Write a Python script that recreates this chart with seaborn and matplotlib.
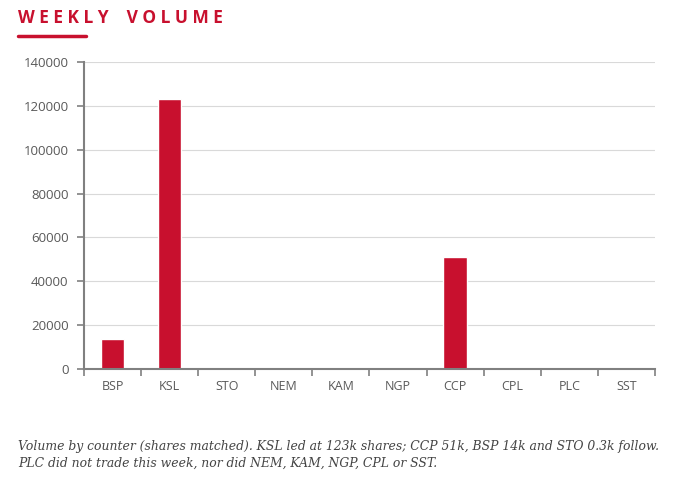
import matplotlib
matplotlib.use("Agg")
import matplotlib.pyplot as plt
import seaborn as sns
import pandas as pd
import numpy as np

# Data
counters = ["BSP", "KSL", "STO", "NEM", "KAM", "NGP", "CCP", "CPL", "PLC", "SST"]
volume = [13500, 123000, 300, 0, 0, 0, 51000, 0, 0, 0]
y_ticks = [0, 20000, 40000, 60000, 80000, 100000, 120000, 140000]

red = "#c8102e"
grey = "#595959"

sns.set_theme(style="white")
plt.rcParams["font.family"] = ["Open Sans", "DejaVu Sans"]

df = pd.DataFrame({"counter": counters, "volume": volume})

fig = plt.figure(figsize=(6.88, 5.01), dpi=100)
ax = fig.add_axes([0.122, 0.2635, 0.83, 0.6125])

sns.barplot(data=df, x="counter", y="volume", color=red, width=0.41,
            saturation=1, ax=ax)

ax.set_ylim(0, 140000)
ax.set_xlim(-0.5, len(counters) - 0.5)
ax.set_yticks(y_ticks)
ax.set_yticklabels([str(v) for v in y_ticks], color=grey, fontsize=9.5)
ax.yaxis.grid(True, color="#d9d9d9", linewidth=0.8)
ax.set_axisbelow(True)

# category labels at centres, tick marks at boundaries
ax.set_xticks(np.arange(-0.5, len(counters), 1))
ax.set_xticklabels([])
ax.set_xticks(np.arange(len(counters)), minor=True)
ax.set_xticklabels(counters, minor=True, color=grey, fontsize=9)
ax.tick_params(axis="x", which="major", length=5, width=1.2, color="#808080",
               direction="out", bottom=True)
ax.tick_params(axis="x", which="minor", length=0, pad=8)
ax.tick_params(axis="y", length=5, width=1.2, color="#808080", direction="out",
               left=True, pad=6)

ax.set_xlabel("")
ax.set_ylabel("")
for side in ["top", "right"]:
    ax.spines[side].set_visible(False)
for side in ["left", "bottom"]:
    ax.spines[side].set_color("#808080")
    ax.spines[side].set_linewidth(1.5)

# title with spaced letters and red underline
fig.text(18 / 688, 1 - 18 / 501, " ".join("WEEKLY VOLUME").replace("   ", "    "),
         color=red, fontsize=12.5, fontweight="bold", va="center", ha="left")
fig.add_artist(plt.Line2D([18 / 688, 86 / 688], [1 - 36 / 501, 1 - 36 / 501],
                          color=red, linewidth=2.5))

caption = ("Volume by counter (shares matched). KSL led at 123k shares; CCP 51k, BSP 14k and STO 0.3k follow.\n"
           "PLC did not trade this week, nor did NEM, KAM, NGP, CPL or SST.")
fig.text(18 / 688, 1 - 455 / 501, caption, family=["DejaVu Serif"],
         style="italic", color="#444444", fontsize=8.9, va="center", ha="left",
         linespacing=1.35)

fig.savefig("out.png", dpi=100)
